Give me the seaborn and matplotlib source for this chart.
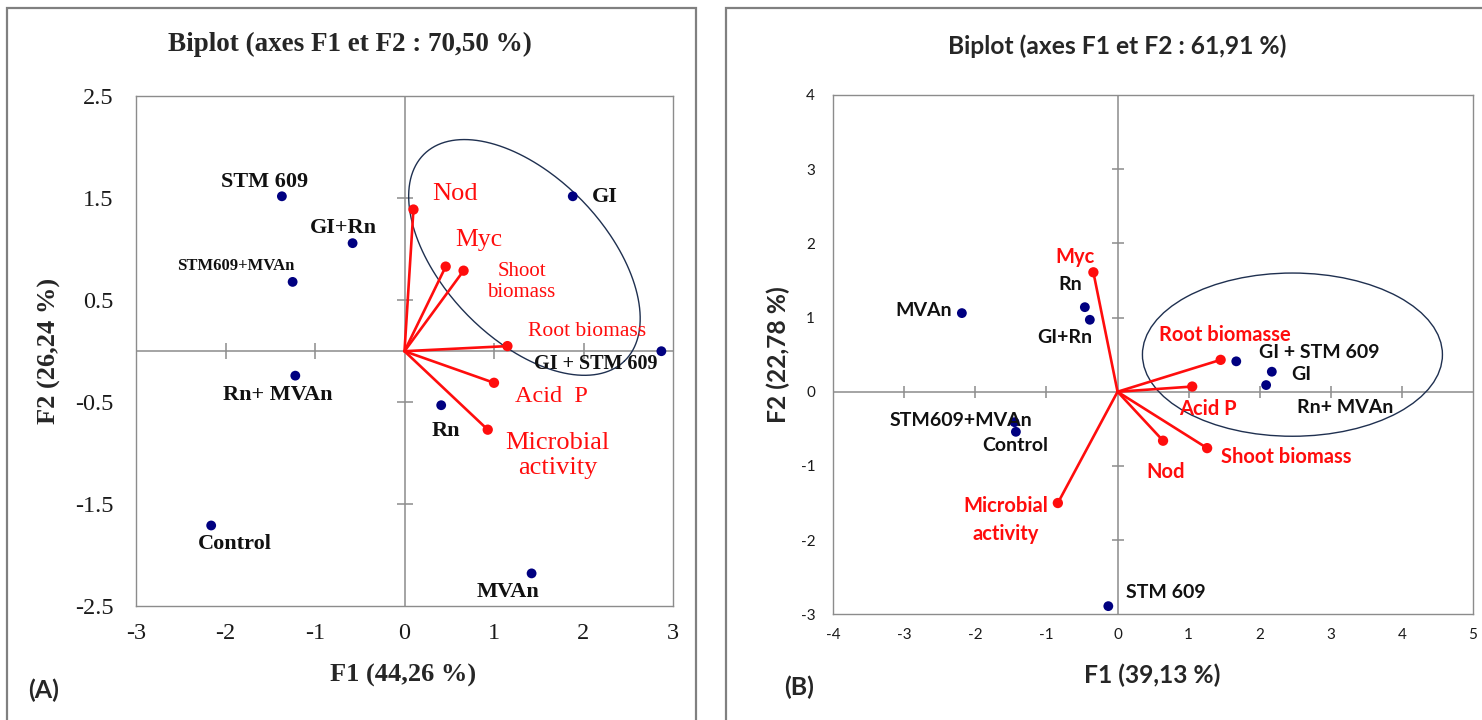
import numpy as np
import matplotlib.pyplot as plt
import seaborn as sns
from matplotlib.patches import Rectangle, Ellipse

# ---- data: panel (A) ----
a_obs = ["STM 609", "GI+Rn", "STM609+MVAn", "Rn+ MVAn", "Control", "GI", "GI + STM 609", "Rn", "MVAn"]
a_obs_f1 = [-1.37, -0.58, -1.25, -1.22, -2.16, 1.88, 2.87, 0.41, 1.42]
a_obs_f2 = [1.52, 1.06, 0.68, -0.24, -1.71, 1.52, 0.00, -0.53, -2.18]
a_var = ["Nod", "Myc", "Shoot\nbiomass", "Root biomass", "Acid  P", "Microbial\nactivity"]
a_var_f1 = [0.10, 0.46, 0.66, 1.15, 1.00, 0.93]
a_var_f2 = [1.39, 0.83, 0.79, 0.05, -0.31, -0.77]

# ---- data: panel (B) ----
b_obs = ["MVAn", "Rn", "GI+Rn", "STM609+MVAn", "Control", "STM 609", "GI + STM 609", "GI", "Rn+ MVAn"]
b_obs_f1 = [-2.19, -0.46, -0.39, -1.45, -1.43, -0.13, 1.67, 2.17, 2.09]
b_obs_f2 = [1.06, 1.14, 0.97, -0.41, -0.54, -2.89, 0.41, 0.27, 0.09]
b_var = ["Myc", "Root biomasse", "Acid P", "Nod", "Shoot biomass", "Microbial\nactivity"]
b_var_f1 = [-0.34, 1.45, 1.05, 0.64, 1.26, -0.84]
b_var_f2 = [1.61, 0.43, 0.07, -0.66, -0.76, -1.50]

# label placement (pixel offsets from the point), fonts
a_obs_off = [(-17, 14), (-9, 15), (-57, 16), (-18, -19), (24, -19), (32, -1), (-66, -13), (5, -26), (-24, -19)]
a_obs_size = [16, 16, 12, 16, 16, 16, 14.5, 16, 16]
a_var_off = [(42, 16), (33, 27), (58, -11), (80, 15), (57, -14), (70, -26)]
a_var_size = [19, 18.5, 15, 15.5, 17.5, 19]
a_var_ls = [1.0, 1.0, 1.15, 1.0, 1.0, 1.2]

b_obs_off = [(-10, 3), (-15, 23), (-25, -18), (-54, 2), (-1, -14), (57, 14), (83, 9), (29, -3), (79, -22)]
b_obs_ha = ["right"] + ["center"] * 8
b_var_off = [(-18, 15), (4, 25), (16, -22), (3, -31), (79, -9), (-52, -17)]

W, H = 1482, 720
NAVY = "#000080"
RED = "#ff0d0d"
GRID = "#8c8c8c"
SERIF = "Liberation Serif"
SANS = "Lato"

sns.set_theme(style="white")
plt.rcParams["axes.unicode_minus"] = False

fig = plt.figure(figsize=(W / 100, H / 100), dpi=100)
fig.patch.set_facecolor("white")


def fx(px):
    return px / W


def fy(py):
    return 1 - py / H


# panel frames
for x0, x1 in [(6.6, 695.6), (726, 1500)]:
    fig.patches.append(Rectangle((fx(x0), -0.05), fx(x1 - x0), fy(8.3) + 0.05, transform=fig.transFigure,
                                 fill=False, edgecolor="#808080", linewidth=1.6, zorder=0))


def style_axes(ax, xt, yt, xlab, ylab, family, size, tick_ms, xpad, ypad):
    ax.set_xlim(xt[0], xt[-1])
    ax.set_ylim(yt[0], yt[-1])
    ax.set_xticks(xt)
    ax.set_yticks(yt)
    ax.set_xticklabels(xlab)
    ax.set_yticklabels(ylab)
    ax.tick_params(length=0, labelsize=size, colors="#1a1a1a")
    ax.tick_params(axis="x", pad=xpad)
    ax.tick_params(axis="y", pad=ypad)
    for t in ax.get_xticklabels() + ax.get_yticklabels():
        t.set_fontfamily(family)
    for s in ax.spines.values():
        s.set_color(GRID)
        s.set_linewidth(1.0)
    ax.axhline(0, color=GRID, lw=1.1, zorder=1)
    ax.axvline(0, color=GRID, lw=1.1, zorder=1)
    inner_x = [v for v in xt[1:-1] if v != 0]
    inner_y = [v for v in yt[1:-1] if v != 0]
    ax.plot(inner_x, [0] * len(inner_x), ls="none", marker="|", ms=tick_ms, mew=1.1, color=GRID, zorder=1)
    ax.plot([0] * len(inner_y), inner_y, ls="none", marker="_", ms=tick_ms, mew=1.1, color=GRID, zorder=1)


# ---------------- panel A ----------------
axA = fig.add_axes([fx(136), fy(606), fx(537), 509.6 / H])
xtA = [-3, -2, -1, 0, 1, 2, 3]
ytA = [-2.5, -1.5, -0.5, 0.5, 1.5, 2.5]
style_axes(axA, xtA, ytA, [str(v) for v in xtA], [str(v) for v in ytA], SERIF, 17.5, 11, 12, 16)

for x, y in zip(a_var_f1, a_var_f2):
    axA.plot([0, x], [0, y], color=RED, lw=1.9, zorder=3)
sns.scatterplot(x=a_var_f1, y=a_var_f2, ax=axA, color=RED, s=55, edgecolor="none", zorder=4, legend=False)
sns.scatterplot(x=a_obs_f1, y=a_obs_f2, ax=axA, color=NAVY, s=50, edgecolor="none", zorder=4, legend=False)

for name, x, y, off, sz in zip(a_obs, a_obs_f1, a_obs_f2, a_obs_off, a_obs_size):
    axA.annotate(name, (x, y), xytext=off, textcoords="offset pixels", ha="center", va="center",
                 fontsize=sz, fontweight="bold", family=SERIF, color="#111111", zorder=5)
for name, x, y, off, sz, ls in zip(a_var, a_var_f1, a_var_f2, a_var_off, a_var_size, a_var_ls):
    axA.annotate(name, (x, y), xytext=off, textcoords="offset pixels", ha="center", va="center",
                 fontsize=sz, family=SERIF, color=RED, linespacing=ls, zorder=5)

# tilted ellipse drawn in pixel space so its shape matches the screen
sx = 537 / 6
sy = 509.6 / 5
t = np.linspace(0, 2 * np.pi, 300)
ea, eb, ang = 144, 81, np.deg2rad(-46)
ex = 1.34 + (ea * np.cos(t) * np.cos(ang) - eb * np.sin(t) * np.sin(ang)) / sx
ey = 0.92 + (ea * np.cos(t) * np.sin(ang) + eb * np.sin(t) * np.cos(ang)) / sy
axA.plot(ex, ey, color="#1f3050", lw=1.0, zorder=2)

fig.text(fx(350), fy(44.5), "Biplot (axes F1 et F2 : 70,50 %)", ha="center", va="center",
         fontsize=19.5, fontweight="bold", family=SERIF)
fig.text(fx(403), fy(675), "F1 (44,26 %)", ha="center", va="center", fontsize=19, fontweight="bold", family=SERIF)
fig.text(fx(49.5), fy(351), "F2 (26,24 %)", ha="center", va="center", rotation=90,
         fontsize=19, fontweight="bold", family=SERIF)
fig.text(fx(44), fy(690), "(A)", ha="center", va="center", fontsize=18, fontweight="bold", family=SANS)

# ---------------- panel B ----------------
axB = fig.add_axes([fx(833.2), fy(614.3), fx(639.8), 519.3 / H])
xtB = list(range(-4, 6))
ytB = list(range(-3, 5))
style_axes(axB, xtB, ytB, [str(v) for v in xtB], [str(v) for v in ytB], SANS, 11, 8, 10, 13)

for x, y in zip(b_var_f1, b_var_f2):
    axB.plot([0, x], [0, y], color=RED, lw=1.9, zorder=3)
sns.scatterplot(x=b_var_f1, y=b_var_f2, ax=axB, color=RED, s=55, edgecolor="none", zorder=4, legend=False)
sns.scatterplot(x=b_obs_f1, y=b_obs_f2, ax=axB, color=NAVY, s=50, edgecolor="none", zorder=4, legend=False)

for name, x, y, off, ha in zip(b_obs, b_obs_f1, b_obs_f2, b_obs_off, b_obs_ha):
    axB.annotate(name, (x, y), xytext=off, textcoords="offset pixels", ha=ha, va="center",
                 fontsize=14, fontweight="bold", family=SANS, color="#111111", zorder=5)
for name, x, y, off in zip(b_var, b_var_f1, b_var_f2, b_var_off):
    axB.annotate(name, (x, y), xytext=off, textcoords="offset pixels", ha="center", va="center",
                 fontsize=14.5, fontweight="bold", family=SANS, color=RED, linespacing=1.45, zorder=5)

axB.add_patch(Ellipse((2.46, 0.50), 2 * 2.11, 2 * 1.10, fill=False, edgecolor="#1f3050", lw=1.0, zorder=2))

fig.text(fx(1117), fy(46), "Biplot (axes F1 et F2 : 61,91 %)", ha="center", va="center",
         fontsize=17.7, fontweight="bold", family=SANS)
fig.text(fx(1152), fy(675), "F1 (39,13 %)", ha="center", va="center", fontsize=17.7, fontweight="bold", family=SANS)
fig.text(fx(778), fy(355), "F2 (22,78 %)", ha="center", va="center", rotation=90,
         fontsize=17.7, fontweight="bold", family=SANS)
fig.text(fx(799), fy(687), "(B)", ha="center", va="center", fontsize=18, fontweight="bold", family=SANS)

fig.savefig("out.png", dpi=100, facecolor="white")
